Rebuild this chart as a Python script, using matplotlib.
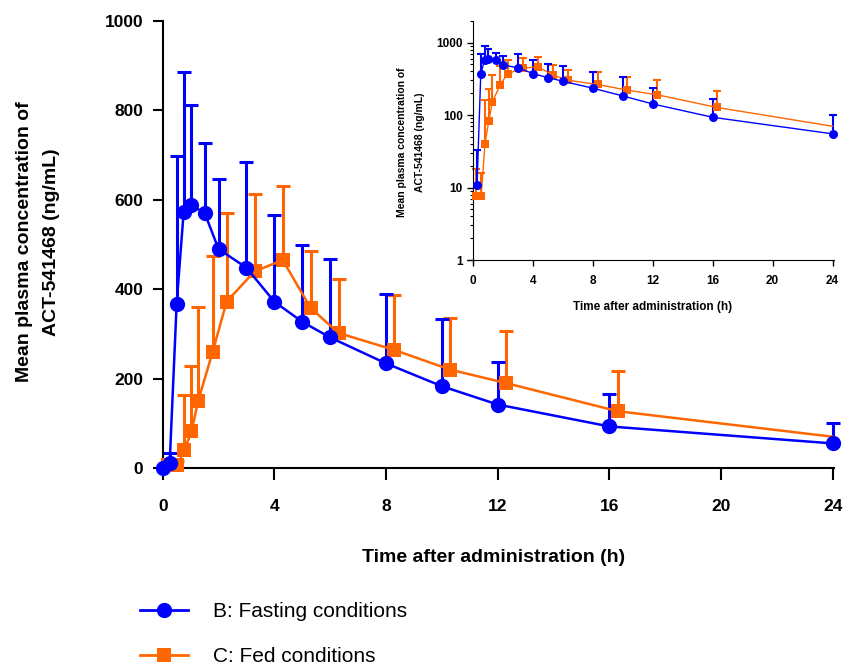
import numpy as np
import matplotlib
matplotlib.use("Agg")
import matplotlib.pyplot as plt
from matplotlib.lines import Line2D
from matplotlib.ticker import LogLocator, FixedLocator, NullFormatter

plt.rcParams['font.family'] = ['Liberation Sans', 'DejaVu Sans']

# fasting (B)
t_fast = [0, 0.25, 0.5, 0.75, 1, 1.5, 2, 3, 4, 5, 6, 8, 10, 12, 16, 24]
mean_fast = [0, 11, 368, 572, 588, 571, 490, 448, 372, 327, 292, 234, 183, 142, 93, 55]
top_fast = [0, 33, 698, 887, 813, 726, 647, 685, 565, 498, 467, 390, 333, 238, 165, 100]

# fed (C), plotted slightly offset in time
t_fed = [0.2, 0.53, 0.78, 1.03, 1.27, 1.79, 2.29, 3.29, 4.3, 5.3, 6.3, 8.3, 10.3, 12.3, 16.3, 24]
mean_fed = [7.7, 7.7, 40, 82, 150, 260, 372, 440, 465, 358, 302, 264, 220, 190, 127, 70]
top_fed = [18, 16, 163, 228, 360, 474, 571, 612, 630, 485, 422, 387, 335, 306, 216, 70]

xticks = [0, 4, 8, 12, 16, 20, 24]
yticks_main = [0, 200, 400, 600, 800, 1000]
yticks_log = [1, 10, 100, 1000]

blue = '#0000FF'
orange = '#FF6600'


def draw_series(ax, t, m, top, color, marker, ms, lw, elw, cs, skip_first=False, no_marker_last=False):
    t = np.array(t, float)
    m = np.array(m, float)
    top = np.array(top, float)
    if skip_first:
        t, m, top = t[1:], m[1:], top[1:]
    up = top - m
    sel = up > 0
    eb = ax.errorbar(t[sel], m[sel], yerr=[np.zeros(sel.sum()), up[sel]], fmt='none',
                     ecolor=color, elinewidth=elw, capsize=cs, capthick=elw, zorder=2, clip_on=False)
    eb[1][0].set_visible(False)
    n = len(t)
    every = list(range(n - 1)) if no_marker_last else list(range(n))
    ax.plot(t, m, color=color, lw=lw, marker=marker, ms=ms, markevery=every,
            markeredgewidth=0, zorder=3, clip_on=False)


fig = plt.figure(figsize=(8.57, 6.68), dpi=100)

# main linear axes
ax = fig.add_axes([156.7 / 857, 1 - 468 / 668, (834 - 156.7) / 857, (468 - 21) / 668])
draw_series(ax, t_fed, mean_fed, top_fed, orange, 's', 10, 1.8, 2.2, 4.7, no_marker_last=True)
draw_series(ax, t_fast, mean_fast, top_fast, blue, 'o', 11, 1.8, 2.2, 4.7)
ax.set_xlim(-0.215, 24.05)
ax.set_ylim(0, 1000)
ax.spines['top'].set_visible(False)
ax.spines['right'].set_visible(False)
ax.spines['left'].set_position(('data', 0))
for s in ['left', 'bottom']:
    ax.spines[s].set_linewidth(1.5)
ax.xaxis.set_major_locator(FixedLocator(xticks))
ax.yaxis.set_major_locator(FixedLocator(yticks_main))
ax.tick_params(axis='x', length=8.5, width=1.5, pad=14, labelsize=12.5)
ax.tick_params(axis='y', length=7, width=1.5, pad=7, labelsize=12.5)
for lab in ax.get_xticklabels() + ax.get_yticklabels():
    lab.set_fontweight('bold')

fig.text(38 / 857, 1 - 242 / 668, 'Mean plasma concentration of\nACT-541468 (ng/mL)',
         rotation=90, ha='center', va='center', fontsize=14, fontweight='bold',
         linespacing=1.75, multialignment='center')
fig.text(494 / 857, 1 - 558 / 668, 'Time after administration (h)', ha='center', va='center',
         fontsize=14, fontweight='bold')

# inset log axes
axi = fig.add_axes([467 / 857, 1 - 260 / 668, (834 - 467) / 857, (260 - 20.7) / 668])
draw_series(axi, t_fed, mean_fed, top_fed, orange, 's', 6, 1.0, 1.5, 3, no_marker_last=True)
draw_series(axi, t_fast, mean_fast, top_fast, blue, 'o', 6.5, 1.0, 1.5, 3, skip_first=True)
axi.set_yscale('log')
axi.set_xlim(-0.42, 24.1)
axi.set_ylim(1, 2000)
axi.spines['top'].set_visible(False)
axi.spines['right'].set_visible(False)
axi.spines['left'].set_position(('data', 0))
axi.xaxis.set_major_locator(FixedLocator(xticks))
axi.yaxis.set_major_locator(FixedLocator(yticks_log))
axi.yaxis.set_major_formatter(matplotlib.ticker.FixedFormatter([str(v) for v in yticks_log]))
axi.yaxis.set_minor_locator(LogLocator(base=10, subs=np.arange(2, 10)))
axi.yaxis.set_minor_formatter(NullFormatter())
axi.tick_params(axis='both', which='major', length=4, width=1, labelsize=8.5)
axi.tick_params(axis='y', which='minor', length=2.5, width=0.8)
axi.tick_params(axis='x', pad=7)
for lab in axi.get_xticklabels() + axi.get_yticklabels():
    lab.set_fontweight('bold')

fig.text(411 / 857, 1 - 142 / 668, 'Mean plasma concentration of\nACT-541468 (ng/mL)',
         rotation=90, ha='center', va='center', fontsize=7.5, fontweight='bold',
         linespacing=1.9, multialignment='center')
fig.text(653 / 857, 1 - 307 / 668, 'Time after administration (h)', ha='center', va='center',
         fontsize=8.5, fontweight='bold')

# legend below the plot
handles = [Line2D([], [], color=blue, lw=2, marker='o', ms=11, markeredgewidth=0),
           Line2D([], [], color=orange, lw=2, marker='s', ms=10, markeredgewidth=0)]
fig.legend(handles, ['B: Fasting conditions', 'C: Fed conditions'], loc='upper left',
           bbox_to_anchor=(140 / 857, 1 - 602 / 668), frameon=False, fontsize=15,
           handlelength=2.3, handletextpad=1.2, labelspacing=1.25, borderpad=0, borderaxespad=0)

fig.savefig('out.png', dpi=100)
